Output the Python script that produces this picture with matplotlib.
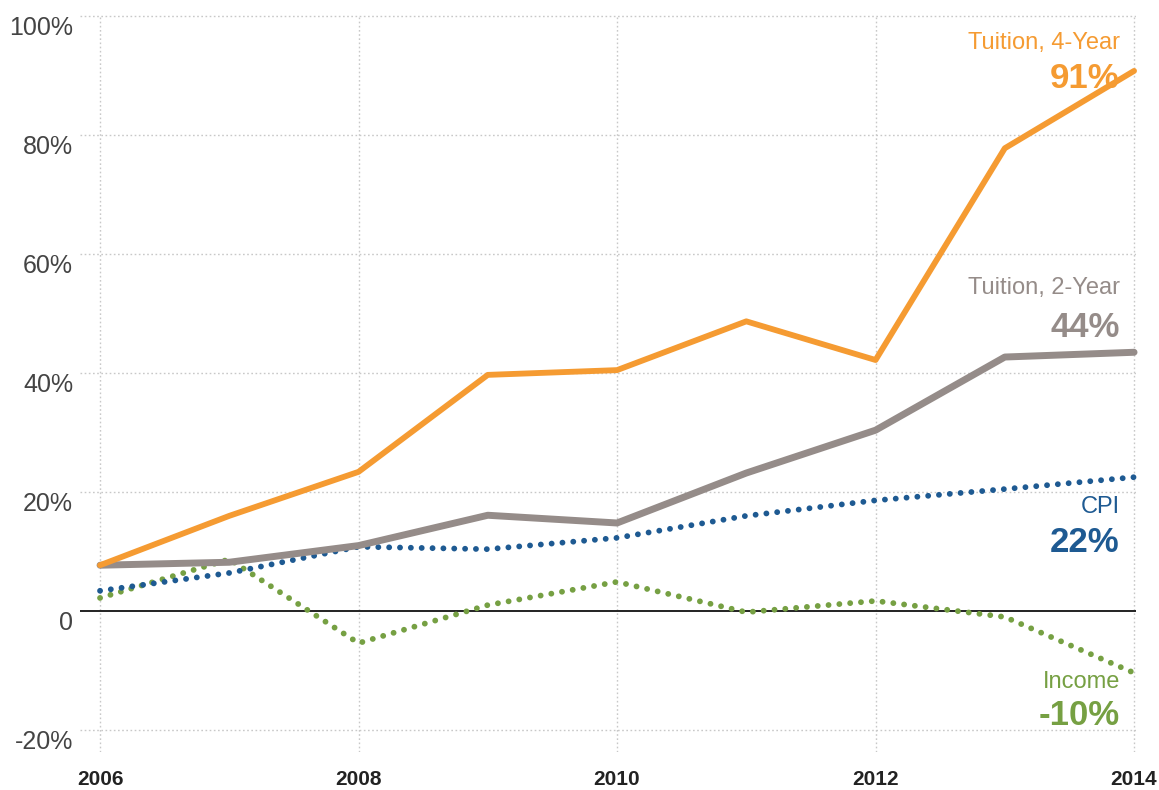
import matplotlib
matplotlib.use("Agg")
import matplotlib.pyplot as plt
from matplotlib.ticker import FixedLocator

# values (percent change since base year)
years = [2006, 2007, 2008, 2009, 2010, 2011, 2012, 2013, 2014]
tuition_4yr = [7.7, 16.0, 23.4, 39.7, 40.5, 48.7, 42.2, 77.8, 90.8]
tuition_2yr = [7.7, 8.2, 11.0, 16.1, 14.8, 23.2, 30.4, 42.7, 43.5]
cpi = [3.4, 6.4, 10.8, 10.4, 12.3, 16.0, 18.6, 20.5, 22.5]
income = [2.2, 8.7, -5.4, 1.0, 4.9, -0.2, 1.7, -1.0, -10.4]

y_ticks = [-20, 0, 20, 40, 60, 80, 100]
y_labels = ["-20%", "0", "20%", "40%", "60%", "80%", "100%"]
x_ticks = [2006, 2008, 2010, 2012, 2014]

ORANGE = "#F59B32"
GREY = "#958C89"
BLUE = "#1E5A92"
GREEN = "#76A043"

plt.rcParams['font.family'] = ['Liberation Sans', 'DejaVu Sans']

fig = plt.figure(figsize=(11.59, 7.90), dpi=100)
ax = fig.add_axes([80 / 1159, 1 - 752 / 790, 1056 / 1159, 737 / 790])

ax.set_xlim(2005.845, 2014.015)
ax.set_ylim(-23.7, 100.2)

# grid
for yt in y_ticks:
    if yt == 0:
        ax.axhline(0, color="#222222", lw=1.4, zorder=2)
    else:
        ax.axhline(yt, color="#c8c8c8", lw=1.0, ls=(0, (1.2, 1.8)), zorder=1)
for xt in x_ticks:
    ax.axvline(xt, color="#c8c8c8", lw=1.0, ls=(0, (1.2, 1.8)), zorder=1)

dots = dict(ls=(0, (0.01, 1.85)), dash_capstyle="round", clip_on=False)
ax.plot(years, income, color=GREEN, lw=4.2, zorder=3, **dots)
ax.plot(years, cpi, color=BLUE, lw=4.2, zorder=4, **dots)
ax.plot(years, tuition_2yr, color=GREY, lw=5.0, solid_capstyle="round",
        solid_joinstyle="round", zorder=5, clip_on=False)
ax.plot(years, tuition_4yr, color=ORANGE, lw=4.2, solid_capstyle="round",
        solid_joinstyle="round", zorder=6, clip_on=False)

# end labels
lx = 2013.89
small = dict(fontsize=17, ha="right", va="center")
big = dict(fontsize=25, fontweight="bold", ha="right", va="center")
ax.text(lx, 95.5, "Tuition, 4-Year", color=ORANGE, **small)
ax.text(lx, 89.6, "91%", color=ORANGE, **big)
ax.text(lx, 54.3, "Tuition, 2-Year", color=GREY, **small)
ax.text(lx, 47.7, "44%", color=GREY, **big)
ax.text(lx, 17.5, "CPI", color=BLUE, **small)
ax.text(lx, 11.6, "22%", color=BLUE, **big)
ax.text(lx, -11.9, "Income", color=GREEN, **small)
ax.text(lx, -17.5, "-10%", color=GREEN, **big)

ax.yaxis.set_major_locator(FixedLocator(y_ticks))
ax.set_yticklabels(y_labels, fontsize=18, color="#444444")
ax.set_xticks(x_ticks)
ax.set_xticklabels([str(x) for x in x_ticks], fontsize=15, fontweight="bold", color="#222222")
ax.tick_params(axis="y", length=0, pad=5)
ax.tick_params(axis="x", length=0, pad=13)
for lab in ax.get_yticklabels():
    lab.set_verticalalignment("top")
for s in ax.spines.values():
    s.set_visible(False)

fig.savefig("out.png", dpi=100)
